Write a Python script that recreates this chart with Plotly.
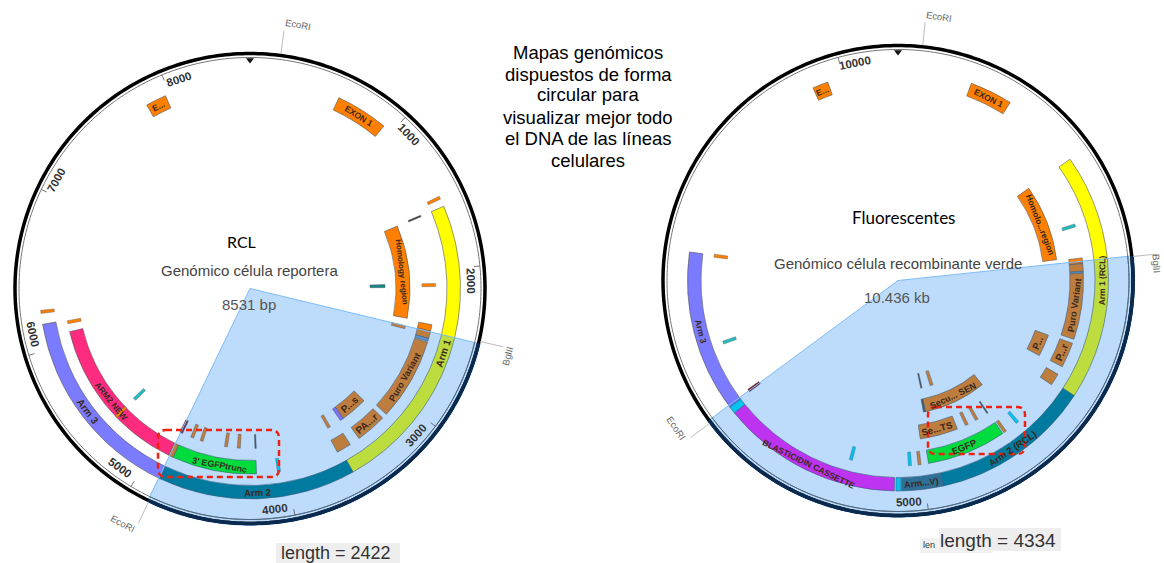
import math
import plotly.graph_objects as go

W, H = 1164, 563

# ---------- data: left map (bp) ----------
L_TOTAL = 8531
L_SELECT = (2453, 4875)
L_SITES = ["EcoRI", "BglII", "EcoRI"]
L_SITE_BP = [178, 2440, 4868]
L_TICKS = [1000, 2000, 3000, 4000, 5000, 6000, 7000, 8000]
L_START = [592, 7835, 1588, 1588, 3571, 4868, 4882, 4218, 4846, 2400, 2448, 2503, 2531, 3188, 3420, 3183, 3490, 5350]
L_END = [936, 7970, 2387, 3571, 4868, 6166, 6079, 4846, 4882, 2448, 2503, 2524, 3145, 3420, 3450, 3412, 3600, 5372]
L_TRACK = ["a", "a", "c", "a", "a", "a", "b", "b", "b", "b", "b", "b", "b", "c", "c", "b", "b", "b"]
L_FILL = ["orange", "orange", "orange", "yellow", "teal", "periwinkle", "pink", "green", "orange", "orange",
          "orange", "slate", "orange", "orange", "lilac", "orange", "orange", "orange"]
L_MARK_BP = [1527, 1588, 2108, 2107, 2465, 6247, 6150, 5361, 4870, 4768, 4683, 4470, 4361, 4218, 4052, 3563]
L_MARK_TRACK = ["a", "b", "d", "b", "c", "a", "b", "c", "c", "c", "c", "c", "c", "c", "b", "c"]
L_MARK_FILL = ["orange", "dark", "tealdark", "orange", "orange", "orange", "orange", "cyan2", "darkred", "orange",
               "orange", "orange", "orange", "darkb", "cyan", "orange"]
L_LABELS = ["EXON 1", "E...", "Homology region", "Arm 1", "Arm 2", "Arm 3", "ARM2 NEW", "3' EGFPtrunc",
            "Puro Variant", "P...s", "PA...r"]
L_LABEL_BP = [764, 7902, 1988, 2573, 4218, 5517, 5475, 4500, 2838, 3304, 3298]
L_LABEL_TRACK = ["a", "a", "c", "a", "a", "a", "b", "b", "b", "c", "b"]

# ---------- data: right map (bp) ----------
R_TOTAL = 10436
R_SELECT = (2435, 6770)
R_SITES = ["EcoRI", "BglII", "EcoRI"]
R_SITE_BP = [174, 2440, 6750]
R_TICKS = [5000, 10000]
R_START = [592, 9746, 1589, 1589, 3571, 4859, 5195, 5247, 6697, 6755, 2406, 2458, 2528, 2545, 3188, 3183, 3490,
           4088, 4876, 4586, 4221]
R_END = [934, 9871, 2392, 3571, 4859, 5190, 5235, 6697, 6755, 8053, 2458, 2528, 2542, 3145, 3420, 3412, 3600,
         4876, 4900, 4986, 4943]
R_TRACK = ["a", "a", "c", "a", "a", "a", "a", "a", "a", "a", "b", "b", "b", "b", "c", "b", "b", "e", "e", "c", "b"]
R_FILL = ["orange", "orange", "orange", "yellow", "teal", "armv", "cyan", "magenta", "cyan", "periwinkle", "orange",
          "orange", "slate", "orange", "orange", "orange", "orange", "orange", "darkb", "orange", "green"]
R_MARK_BP = [4195, 4056, 4232, 4363, 4479, 4702, 4862, 5024, 5111, 5645, 6772, 7260, 8050, 2108]
R_MARK_TRACK = ["b", "b", "c", "c", "c", "f", "f", "b", "b", "b", "b", "b", "b", "b"]
R_MARK_FILL = ["orange", "cyan", "darkb", "orange", "orange", "orange", "darkb", "orange", "cyan", "cyan", "darkred",
               "cyan2", "orange", "cyan2"]
R_LABELS = ["EXON 1", "E...", "Homolo...region", "Arm 1 (RCL)", "Arm 2 (RCL)", "Arm...V)", "BLASTICIDIN CASSETTE",
            "Arm 3", "Puro Variant", "P...", "P...r", "Secu... SEN", "Se...TS", "EGFP"]
R_LABEL_BP = [763, 9808, 1990, 2610, 4226, 5030, 5972, 7410, 2840, 3304, 3298, 4482, 4786, 4582]
R_LABEL_TRACK = ["a", "a", "c", "a", "a", "a", "a", "a", "b", "c", "b", "e", "c", "b"]

# ---------- styling ----------
TRACKS = {"a": (197, 210.5), "b": (172, 185.5), "c": (146, 160), "d": (120, 135), "e": (121, 134), "f": (95, 110)}
COLORS = {"orange": "#FF7F00", "yellow": "#FFFF00", "teal": "#007B82", "periwinkle": "#7B7BFF", "pink": "#FF2B7F",
          "green": "#00FF00", "slate": "#7F9FBF", "lilac": "#B070FF", "dark": "#444444", "darkb": "#6B4A20",
          "tealdark": "#168888", "cyan": "#00DDEE", "cyan2": "#1FBFBF", "darkred": "#8B2020", "magenta": "#FF1BF0",
          "armv": "#3E6E78"}
MARK_W = {"dark": 1.6, "darkb": 1.4}
OVERLAY = "rgba(0,120,240,0.26)"
RING_R, RING2_R, DOM_R = 235, 231, 238
L_LABEL_SIZE = [8.5, 8.5, 8, 10, 9.5, 10, 8.5, 8.8, 9.2, 10, 10]
R_LABEL_SIZE = [8.5, 8.5, 8.5, 8.5, 9.5, 9, 8.5, 8.5, 9.2, 9.5, 10, 9, 9.5, 9.5]
LEFT = dict(c=(250, 288.5), sub="polar", total=L_TOTAL, select=L_SELECT, sites=L_SITES, site_bp=L_SITE_BP, ticks=L_TICKS,
            start=L_START, end=L_END, track=L_TRACK, fill=L_FILL, mbp=L_MARK_BP, mtrack=L_MARK_TRACK, mfill=L_MARK_FILL,
            labels=L_LABELS, lbp=L_LABEL_BP, ltrack=L_LABEL_TRACK, lsize=L_LABEL_SIZE,
            site_lab=[(2.8, 268), (1.8, 266), (3.0, 267)])
RIGHT = dict(c=(898, 280.5), sub="polar2", total=R_TOTAL, select=R_SELECT, sites=R_SITES, site_bp=R_SITE_BP, ticks=R_TICKS,
             start=R_START, end=R_END, track=R_TRACK, fill=R_FILL, mbp=R_MARK_BP, mtrack=R_MARK_TRACK, mfill=R_MARK_FILL,
             labels=R_LABELS, lbp=R_LABEL_BP, ltrack=R_LABEL_TRACK, lsize=R_LABEL_SIZE,
             site_lab=[(2.8, 267), (2.2, 259.5), (3.4, 266.5)])

fig = go.Figure()
annos = []
leaders = []


def to_paper(m, deg, r):
    a = math.radians(deg)
    return (m["c"][0] + r * math.sin(a)) / W, 1 - (m["c"][1] - r * math.cos(a)) / H


def tangent(deg):
    deg %= 360
    return deg if deg <= 90 or deg > 270 else deg - 180


def text(x, y, s, size, color="#000", family="Liberation Sans", angle=0, bold=False, **kw):
    annos.append(dict(x=x, y=y, xref="paper", yref="paper", text=f"<b>{s}</b>" if bold else s, showarrow=False,
                      font=dict(size=size, color=color, family=family), textangle=angle,
                      xanchor="center", yanchor="middle", **kw))


def px(x, y, s, size, **kw):
    text(x / W, 1 - y / H, s, size, **kw)


def draw_map(m):
    k = 360 / m["total"]
    sub = m["sub"]
    common = dict(subplot=sub, hoverinfo="skip", showlegend=False)

    # rings
    deg = list(range(0, 361))
    for r, col, lw in ((RING_R, "#000000", 3.5), (RING2_R, "#777777", 1)):
        fig.add_trace(go.Scatterpolar(r=[r] * 361, theta=deg, mode="lines", line=dict(color=col, width=lw), **common))

    # features
    th, wd, base, rr, fc = [], [], [], [], []
    for s, e, t, f in zip(m["start"], m["end"], m["track"], m["fill"]):
        th.append((s + e) / 2 * k)
        wd.append((e - s) * k)
        base.append(TRACKS[t][0])
        rr.append(TRACKS[t][1] - TRACKS[t][0])
        fc.append(COLORS[f])
    fig.add_trace(go.Barpolar(r=rr, base=base, theta=th, width=wd, marker=dict(color=fc, line=dict(color="#555555", width=0.6)), **common))

    # short marks
    th, wd, base, rr, fc = [], [], [], [], []
    for b, t, f in zip(m["mbp"], m["mtrack"], m["mfill"]):
        r0, r1 = TRACKS[t]
        th.append(b * k)
        wd.append(MARK_W.get(f, 3.0) / ((r0 + r1) / 2) * 180 / math.pi)
        base.append(r0)
        rr.append(r1 - r0)
        fc.append(COLORS[f])
    fig.add_trace(go.Barpolar(r=rr, base=base, theta=th, width=wd, marker=dict(color=fc, line=dict(color="#555555", width=0.4)), **common))

    # selection wedge, on top of all features
    s0, s1 = m["select"]
    fig.add_trace(go.Barpolar(r=[RING_R + 1.7], base=[0], theta=[(s0 + s1) / 2 * k], width=[(s1 - s0) * k],
                              marker=dict(color=OVERLAY, line=dict(color="#7DBBF8", width=1)), **common))

    # ring inside the wedge
    arc = list(range(math.ceil(s0 * k), math.floor(s1 * k) + 1))
    arc = [s0 * k] + arc + [s1 * k]
    fig.add_trace(go.Scatterpolar(r=[RING_R] * len(arc), theta=arc, mode="lines", line=dict(color="#0B2A4F", width=3.5), **common))
    fig.add_trace(go.Scatterpolar(r=[RING2_R] * len(arc), theta=arc, mode="lines", line=dict(color="#4A6A88", width=1), **common))

    # scale ticks
    tr, tt = [], []
    for b in m["ticks"]:
        tr += [RING2_R, 225, None]
        tt += [b * k, b * k, None]
        d = b * k
        d += 4.8 if 90 < d < 270 else 3.8
        x, y = to_paper(m, d, 221.5)
        text(x, y, str(b), 11.5, color="#333333", angle=tangent(d), bold=True)
    fig.add_trace(go.Scatterpolar(r=tr, theta=tt, mode="lines", line=dict(color="#555555", width=0.8), connectgaps=False, **common))

    # origin marker
    fig.add_trace(go.Scatterpolar(r=[228.5], theta=[0], mode="markers", marker=dict(symbol="triangle-down", size=7, color="#111111"), **common))

    # restriction sites
    for name, b, (off, rl) in zip(m["sites"], m["site_bp"], m["site_lab"]):
        d = b * k
        x0, y0 = to_paper(m, d, RING_R + 1.5)
        x1, y1 = to_paper(m, d, 260)
        leaders.append(dict(type="line", xref="paper", yref="paper", x0=x0, y0=y0, x1=x1, y1=y1,
                            line=dict(color="#BBBBBB", width=1)))
        x, y = to_paper(m, d + off, rl)
        text(x, y, name, 9.5, color="#666666", angle=tangent(d + off))

    # feature labels
    for s, b, t, sz in zip(m["labels"], m["lbp"], m["ltrack"], m["lsize"]):
        d = b * k
        r = sum(TRACKS[t]) / 2
        x, y = to_paper(m, d, r)
        text(x, y, s, sz, color="#3A2A20", angle=tangent(d), bold=True)


draw_map(LEFT)
draw_map(RIGHT)


def polar_layout(m):
    cx, cy = m["c"]
    return dict(domain=dict(x=[(cx - DOM_R) / W, (cx + DOM_R) / W], y=[1 - (cy + DOM_R) / H, 1 - (cy - DOM_R) / H]),
                bgcolor="rgba(0,0,0,0)",
                radialaxis=dict(range=[0, DOM_R], visible=False),
                angularaxis=dict(direction="clockwise", rotation=90, thetaunit="degrees", visible=False))


# free text
for x, y, s in [(588, 52, "Mapas genómicos"), (588, 74, "dispuestos de forma"), (588, 95, "circular para"),
                (588, 117, "visualizar mejor todo"), (588, 138, "el DNA de las líneas"), (588, 160, "celulares")]:
    px(x, y, s, 18.5)
px(241, 241, "RCL", 16, family="Lato")
px(250, 270, "Genómico célula reportera", 15, color="#444444")
px(249, 304, "8531 bp", 15, color="#555555")
px(903, 217, "Fluorescentes", 17, family="Lato")
px(898, 263, "Genómico célula recombinante verde", 15, color="#444444")
px(897, 297, "10.436 kb", 15, color="#555555")
px(336, 553, "length = 2422", 18, color="#333333")
px(929, 545, "len", 9, color="#333333")
px(998, 540, "length = 4334", 19, color="#333333")


def box(x0, y0, x1, y1, col):
    return dict(type="rect", xref="paper", yref="paper", x0=x0 / W, x1=x1 / W, y0=1 - y0 / H, y1=1 - y1 / H,
                fillcolor=col, line=dict(width=0), layer="below")


def round_rect(x0, y0, x1, y1, rad):
    X = lambda v: f"{v / W:.5f}"
    Y = lambda v: f"{1 - v / H:.5f}"
    p = (f"M {X(x0 + rad)},{Y(y0)} L {X(x1 - rad)},{Y(y0)} Q {X(x1)},{Y(y0)} {X(x1)},{Y(y0 + rad)} "
         f"L {X(x1)},{Y(y1 - rad)} Q {X(x1)},{Y(y1)} {X(x1 - rad)},{Y(y1)} "
         f"L {X(x0 + rad)},{Y(y1)} Q {X(x0)},{Y(y1)} {X(x0)},{Y(y1 - rad)} "
         f"L {X(x0)},{Y(y0 + rad)} Q {X(x0)},{Y(y0)} {X(x0 + rad)},{Y(y0)} Z")
    return dict(type="path", xref="paper", yref="paper", path=p, line=dict(color="#EE2211", width=2.5, dash="6px,4px"))


shapes = [box(276, 543, 400, 563, "#EEEEEE"), box(920, 538, 993, 553, "#F2F2F2"), box(939, 528, 1061, 551, "#EEEEEE"),
          round_rect(158, 430, 279, 477, 8), round_rect(928, 407, 1025, 454, 8)] + leaders

fig.update_layout(width=W, height=H, margin=dict(l=0, r=0, t=0, b=0, pad=0), paper_bgcolor="white",
                  polar=polar_layout(LEFT), polar2=polar_layout(RIGHT), annotations=annos, shapes=shapes,
                  showlegend=False)
fig.write_html("out.html", post_script="document.body.style.margin='0';", config={"displayModeBar": False})
